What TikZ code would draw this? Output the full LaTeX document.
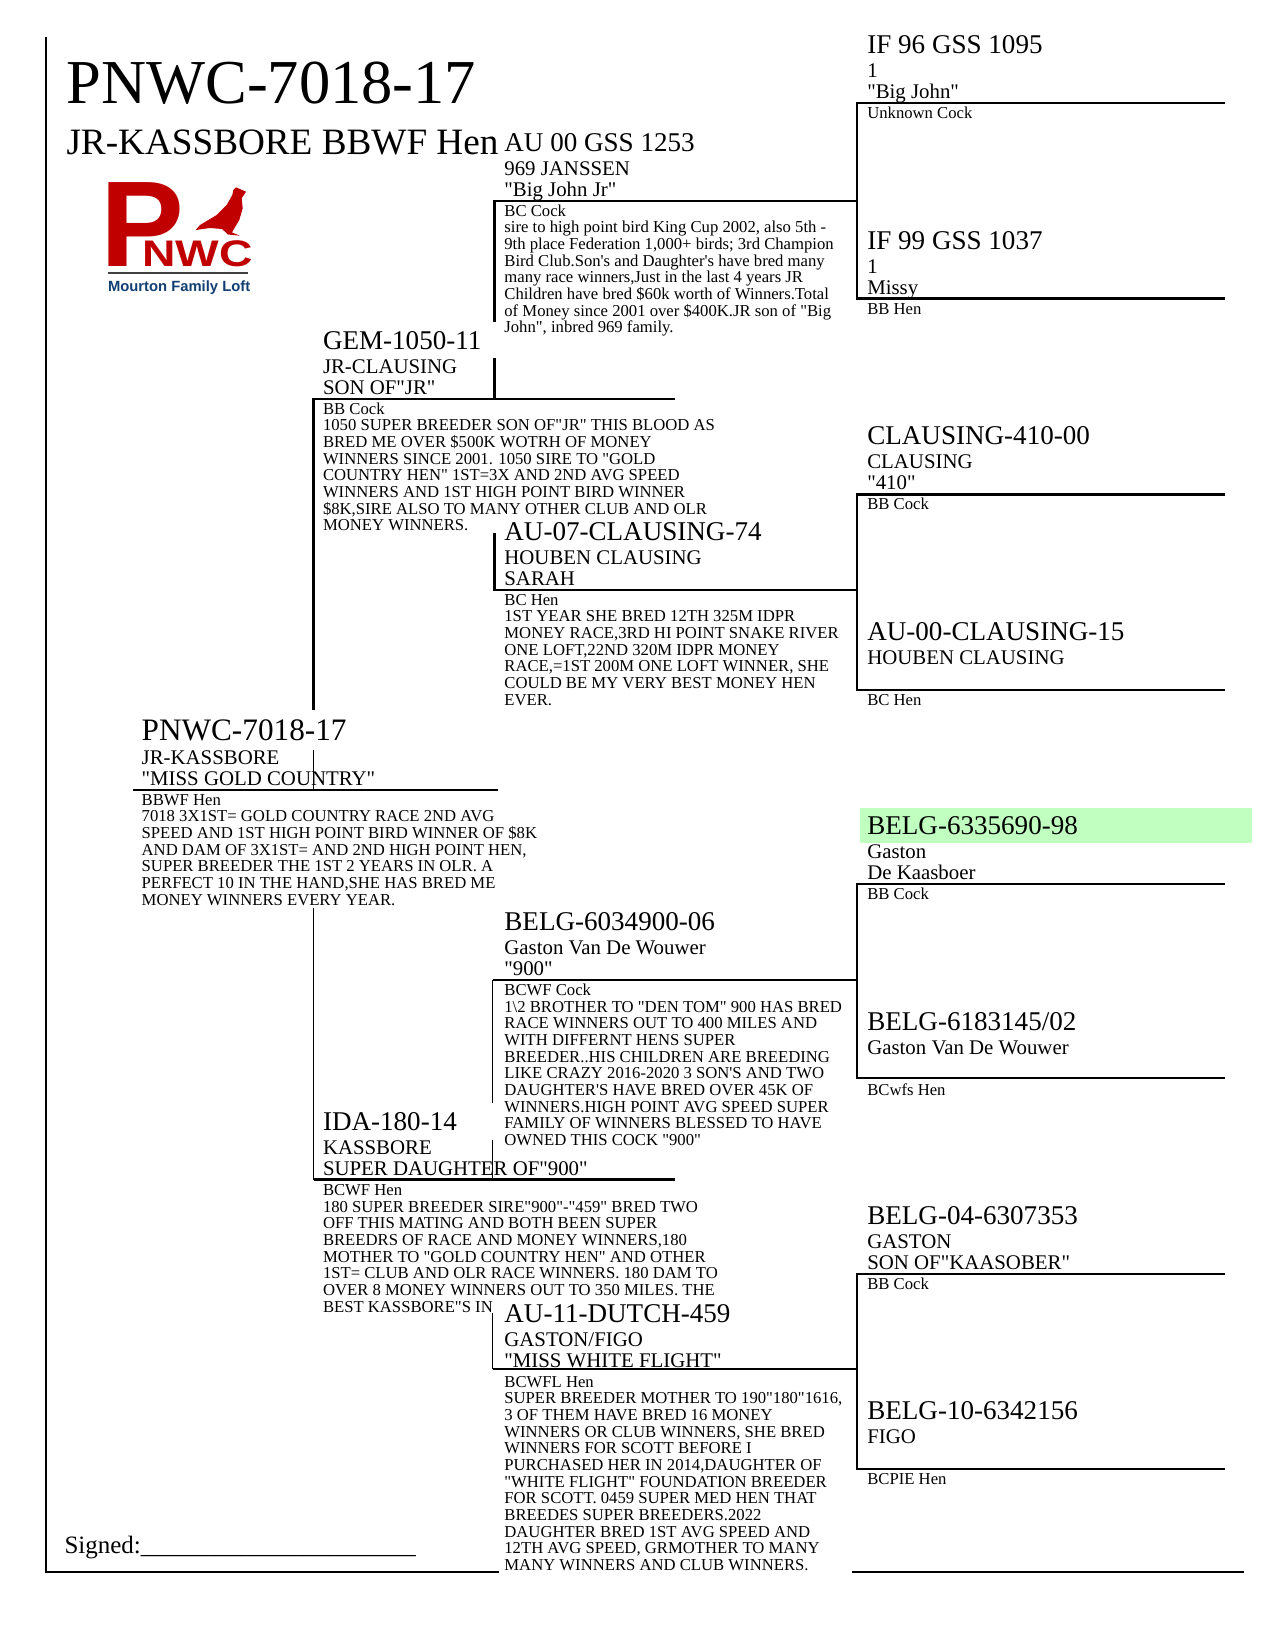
\documentclass[tikz,border=0pt]{standalone}
\usepackage{fontspec}
\usepackage{graphicx}
\newfontfamily\lib{Liberation Serif}
\newfontfamily\libsans{Liberation Sans}
\definecolor{logored}{HTML}{C00000}
\definecolor{logoblue}{HTML}{123F73}
\definecolor{logogray}{HTML}{404040}
\definecolor{hilite}{HTML}{C0FFC0}
\newcommand\rows[1]{\vtop{\baselineskip=16.68pt\lineskiplimit=-100pt\halign{##\hfil\cr#1\cr}}}
% \bird[name style]{id}{x}{line y}{name}{second}{third}{small rows}
\newcommand\bird[8][namef]{%
  \node[txt,#1] (#2-name) at (#3,#4-50) {#5};
  \if\relax\detokenize{#6}\relax\else\node[txt,midf] (#2-strain) at (#3,#4-26) {#6};\fi
  \if\relax\detokenize{#7}\relax\else\node[txt,midf] (#2-nick) at (#3,#4-5) {#7};\fi
  \node[txt,smallf] (#2-note) at (#3,#4+15) {\rows{#8}};
}
\tikzset{
  txt/.style={anchor=base west,inner sep=0pt,outer sep=0pt,text=black},
  namef/.style={font=\lib\fontsize{27.08}{27}\selectfont},
  rootf/.style={font=\lib\fontsize{31.25}{31}\selectfont},
  midf/.style={font=\lib\fontsize{20.83}{21}\selectfont},
  smallf/.style={font=\lib\fontsize{16.67}{16.6}\selectfont},
  rule/.style={draw=black,line width=2.5pt},
  thinrule/.style={draw=black,line width=1.6pt},
}
\begin{document}
\begin{tikzpicture}[x=1pt,y=-1pt]
\useasboundingbox (0,0) rectangle (1275,1650);
\fill[hilite] (860,808) rectangle (1252,843);

% named junctions
\coordinate (ftop) at (46,37); \coordinate (fcorner) at (46,1572); \coordinate (fmid) at (498.6,1572);
\coordinate (brl) at (852,1572); \coordinate (brr) at (1244,1572);
\coordinate (s1) at (857,103); \coordinate (s1e) at (1225,103);
\coordinate (s2) at (857,298.7); \coordinate (s2e) at (1225,298.7);
\coordinate (s3) at (857,494.5); \coordinate (s3e) at (1225,494.5);
\coordinate (s4) at (857,690); \coordinate (s4e) at (1225,690);
\coordinate (s5) at (857,884); \coordinate (s5e) at (1225,884);
\coordinate (s6) at (857,1078); \coordinate (s6e) at (1225,1078);
\coordinate (s7) at (857,1274); \coordinate (s7e) at (1225,1274);
\coordinate (s8) at (857,1469); \coordinate (s8e) at (1225,1469);
\coordinate (g1) at (494.6,201); \coordinate (g1e) at (857,201); \coordinate (g1b) at (494.6,322);
\coordinate (g1c) at (494.6,358); \coordinate (g1d) at (494.6,399);
\coordinate (g2t) at (494.6,533); \coordinate (g2) at (494.6,590); \coordinate (g2e) at (857,590);
\coordinate (g3) at (492.5,980); \coordinate (g3e) at (857,980); \coordinate (g3b) at (492.5,1103);
\coordinate (g3c) at (492.5,1140); \coordinate (g3d) at (492.5,1180);
\coordinate (g4t) at (492.5,1313); \coordinate (g4) at (492.5,1369); \coordinate (g4e) at (857,1369);
\coordinate (p1) at (313.6,399); \coordinate (p1e) at (675,399); \coordinate (p1b) at (313.6,710);
\coordinate (p1c) at (313.6,750); \coordinate (p1d) at (313.6,790);
\coordinate (p2t) at (313.6,908); \coordinate (p2) at (313.6,1179.5); \coordinate (p2e) at (675,1179.5);
\coordinate (r) at (133,790); \coordinate (re) at (497.7,790);

% frame
\draw[rule] (ftop) -- (fcorner) -- (fmid);
\draw[rule] (brl) -- (brr);
% great-grandparents
\draw[rule] (s1e) -- (s1) -- (s2) -- (s2e);
\draw[rule] (s3e) -- (s3) -- (s4) -- (s4e);
\draw[rule] (s5e) -- (s5) -- (s6) -- (s6e);
\draw[rule] (s7e) -- (s7) -- (s8) -- (s8e);
% grandparents
\draw[rule] (g1e) -- (g1) -- (g1b);
\draw[rule] (g1c) -- (g1d);
\draw[rule] (g2t) -- (g2) -- (g2e);
\draw[rule] (g3e) -- (g3);
\draw[thinrule] (g3) -- (g3b);
\draw[thinrule] (g3c) -- (g3d);
\draw[rule] (g4e) -- (g4);
\draw[thinrule] (g4) -- (g4t);
% parents and subject
\draw[rule] (p1e) -- (p1) -- (p1b);
\draw[thinrule] (p1c) -- (p1d);
\draw[thinrule] (p2t) -- (p2);
\draw[rule] (p2) -- (p2e);
\draw[rule] (r) -- (re);

% title
\node[txt,font=\lib\fontsize{62.5}{62}\selectfont] (title) at (66.5,103.5) {PNWC-7018-17};
\node[txt,font=\lib\fontsize{37.2}{37}\selectfont] (subtitle) at (66.5,154.3) {JR-KASSBORE BBWF Hen};

% logo
\node[txt,font=\libsans\bfseries\fontsize{122}{122}\selectfont,text=logored] (logoP) at (100,266) {\scalebox{1.03}[1]{P}};
\node[txt,font=\libsans\bfseries\fontsize{37}{37}\selectfont,text=logored] (logoNWC) at (142,266) {\scalebox{1.25}[1]{NWC}};
\fill[logored] (236,187.3) -- (246,191.7) -- (241.7,198.3) -- (242.7,208.3) -- (239.3,220) -- (233.3,230)
  -- (232,232.5) -- (240,235.7) -- (228,234.5) -- (226,232.5) -- (222,229) -- (210,228) -- (195.7,230) -- (200,225)
  -- (216.7,215) -- (226.7,205) -- (232.3,195) -- (233.3,190) -- cycle;
\draw[logogray,line width=2.5pt] (108,273) -- (248,273);
\node[txt,font=\libsans\bfseries\fontsize{14.8}{15}\selectfont,text=logoblue] (logoLoft) at (108,291.5) {Mourton Family Loft};

% birds
\bird{ss1}{867.3}{103}{IF 96 GSS 1095}{1}{"Big John"}{Unknown Cock}
\bird{sd1}{867.3}{299}{IF 99 GSS 1037}{1}{Missy}{BB Hen}
\bird{ss2}{867.3}{494.5}{CLAUSING-410-00}{CLAUSING}{"410"}{BB Cock}
\bird{sd2}{867.3}{690}{AU-00-CLAUSING-15}{HOUBEN CLAUSING}{}{BC Hen}
\bird{ss3}{867.3}{884}{BELG-6335690-98}{Gaston}{De Kaasboer}{BB Cock}
\bird{sd3}{867.3}{1080.5}{BELG-6183145/02}{Gaston Van De Wouwer}{}{BCwfs Hen}
\bird{ss4}{867.3}{1274}{BELG-04-6307353}{GASTON}{SON OF"KAASOBER"}{BB Cock}
\bird{sd4}{867.3}{1469}{BELG-10-6342156}{FIGO}{}{BCPIE Hen}

\bird{gs1}{504.4}{201}{AU 00 GSS 1253}{969 JANSSEN}{"Big John Jr"}{BC Cock\cr
sire to high point bird King Cup 2002, also 5th -\cr
9th place Federation 1,000+ birds; 3rd Champion\cr
Bird Club.Son's and Daughter's have bred many\cr
many race winners,Just in the last 4 years JR\cr
Children have bred \$60k worth of Winners.Total\cr
of Money since 2001 over \$400K.JR son of "Big\cr
John", inbred 969 family.}

\bird{gd1}{504.4}{590}{AU-07-CLAUSING-74}{HOUBEN CLAUSING}{SARAH}{BC Hen\cr
1ST YEAR SHE BRED 12TH 325M IDPR\cr
MONEY RACE,3RD HI POINT SNAKE RIVER\cr
ONE LOFT,22ND 320M IDPR MONEY\cr
RACE,=1ST 200M ONE LOFT WINNER, SHE\cr
COULD BE MY VERY BEST MONEY HEN\cr
EVER.}

\bird{gs2}{504.4}{980.5}{BELG-6034900-06}{Gaston Van De Wouwer}{"900"}{BCWF Cock\cr
1\textbackslash 2 BROTHER TO "DEN TOM" 900 HAS BRED\cr
RACE WINNERS OUT TO 400 MILES AND\cr
WITH DIFFERNT HENS SUPER\cr
BREEDER..HIS CHILDREN ARE BREEDING\cr
LIKE CRAZY 2016-2020 3 SON'S AND TWO\cr
DAUGHTER'S HAVE BRED OVER 45K OF\cr
WINNERS.HIGH POINT AVG SPEED SUPER\cr
FAMILY OF WINNERS BLESSED TO HAVE\cr
OWNED THIS COCK "900"}

\bird{gd2}{504.4}{1372}{AU-11-DUTCH-459}{GASTON/FIGO}{"MISS WHITE FLIGHT"}{BCWFL Hen\cr
SUPER BREEDER MOTHER TO 190"180"1616,\cr
3 OF THEM HAVE BRED 16 MONEY\cr
WINNERS OR CLUB WINNERS, SHE BRED\cr
WINNERS FOR SCOTT BEFORE I\cr
PURCHASED HER IN 2014,DAUGHTER OF\cr
"WHITE FLIGHT" FOUNDATION BREEDER\cr
FOR SCOTT. 0459 SUPER MED HEN THAT\cr
BREEDES SUPER BREEDERS.2022\cr
DAUGHTER BRED 1ST AVG SPEED AND\cr
12TH AVG SPEED, GRMOTHER TO MANY\cr
MANY WINNERS AND CLUB WINNERS.}

\bird{p1t}{323}{399}{GEM-1050-11}{JR-CLAUSING}{SON OF"JR"}{BB Cock\cr
1050 SUPER BREEDER SON OF"JR" THIS BLOOD AS\cr
BRED ME OVER \$500K WOTRH OF MONEY\cr
WINNERS SINCE 2001. 1050 SIRE TO "GOLD\cr
COUNTRY HEN" 1ST=3X AND 2ND AVG SPEED\cr
WINNERS AND 1ST HIGH POINT BIRD WINNER\cr
\$8K,SIRE ALSO TO MANY OTHER CLUB AND OLR\cr
MONEY WINNERS.}

\bird{p2t}{323}{1180.5}{IDA-180-14}{KASSBORE}{SUPER DAUGHTER OF"900"}{BCWF Hen\cr
180 SUPER BREEDER SIRE"900"-"459" BRED TWO\cr
OFF THIS MATING AND BOTH BEEN SUPER\cr
BREEDRS OF RACE AND MONEY WINNERS,180\cr
MOTHER TO "GOLD COUNTRY HEN" AND OTHER\cr
1ST= CLUB AND OLR RACE WINNERS. 180 DAM TO\cr
OVER 8 MONEY WINNERS OUT TO 350 MILES. THE\cr
BEST KASSBORE"S IN}

\bird[rootf]{root}{141.7}{790}{PNWC-7018-17}{JR-KASSBORE}{"MISS GOLD COUNTRY"}{BBWF Hen\cr
7018 3X1ST= GOLD COUNTRY RACE 2ND AVG\cr
SPEED AND 1ST HIGH POINT BIRD WINNER OF \$8K\cr
AND DAM OF 3X1ST= AND 2ND HIGH POINT HEN,\cr
SUPER BREEDER THE 1ST 2 YEARS IN OLR. A\cr
PERFECT 10 IN THE HAND,SHE HAS BRED ME\cr
MONEY WINNERS EVERY YEAR.}

\node[txt,font=\lib\fontsize{25}{25}\selectfont] (signed) at (64.5,1553.5) {Signed:\_\_\_\_\_\_\_\_\_\_\_\_\_\_\_\_\_\_\_\_\_\_};
\end{tikzpicture}
\end{document}
